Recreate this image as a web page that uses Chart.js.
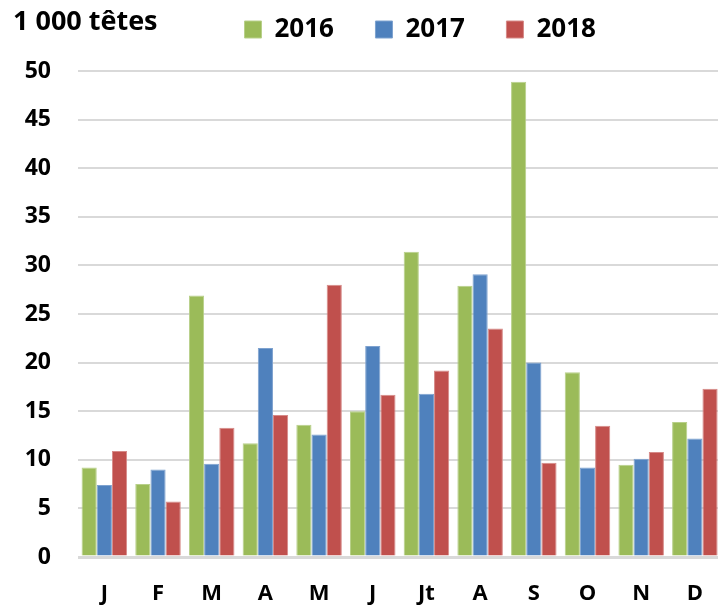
<!DOCTYPE html>
<html>
<head>
<meta charset="utf-8">
<script src="https://cdn.jsdelivr.net/npm/chart.js@4"></script>
<style>
  html, body { margin: 0; padding: 0; overflow: hidden; background: #fff; }
  #wrap { position: relative; width: 729px; height: 605px; }
  #chart { position: absolute; left: 0; top: 0; }
  #unit { position: absolute; left: 13px; top: 6px; font: bold 27px "Open Sans", sans-serif; line-height: 27px; color: #000; white-space: nowrap; }
</style>
</head>
<body>
<div id="wrap">
  <canvas id="chart" width="729" height="605"></canvas>
  <div id="unit">1 000 têtes</div>
</div>
<script>
const months = ['J', 'F', 'M', 'A', 'M', 'J', 'Jt', 'A', 'S', 'O', 'N', 'D'];
const years = ['2016', '2017', '2018'];
const v2016 = [9.2, 7.5, 26.9, 11.7, 13.6, 15.0, 31.4, 27.9, 48.9, 19.0, 9.5, 13.9];
const v2017 = [7.4, 9.0, 9.6, 21.5, 12.6, 21.7, 16.8, 29.1, 20.0, 9.2, 10.1, 12.2];
const v2018 = [10.9, 5.7, 13.3, 14.6, 28.0, 16.7, 19.2, 23.5, 9.7, 13.5, 10.8, 17.3];

const font = '"Open Sans", sans-serif';

// move the legend to where it sits in the picture
const legendShift = {
  id: 'legendShift',
  afterLayout(chart) {
    const lg = chart.legend;
    lg.left += 203;
    lg.right += 203;
    lg.top = -25;
  }
};

function bar(label, data, color, edge) {
  return {
    label: label,
    data: data,
    backgroundColor: color,
    borderColor: edge,
    borderWidth: 1,
    borderSkipped: 'bottom',
    categoryPercentage: 0.848,
    barPercentage: 1.0
  };
}

new Chart(document.getElementById('chart'), {
  type: 'bar',
  data: {
    labels: months,
    datasets: [
      bar(years[0], v2016, '#9bbb59', '#b8d08a'),
      bar(years[1], v2017, '#4f81bd', '#7ea2cf'),
      bar(years[2], v2018, '#c0504d', '#d68a88')
    ]
  },
  plugins: [legendShift],
  options: {
    responsive: false,
    animation: false,
    layout: { padding: 0 },
    scales: {
      x: {
        afterFit: function(s) { s.height = 48; },
        grid: { display: false, drawTicks: false },
        border: { display: false },
        ticks: {
          color: '#000',
          font: { family: font, size: 22, weight: 'bold', lineHeight: 1 },
          padding: 26,
          autoSkip: false,
          maxRotation: 0
        }
      },
      y: {
        min: 0,
        max: 50,
        afterFit: function(s) { s.width = 77.5; },
        grid: {
          drawTicks: false,
          color: '#d9d9d9',
          lineWidth: ctx => ctx.tick && ctx.tick.value === 0 ? 3 : 2
        },
        border: { display: false },
        ticks: {
          stepSize: 5,
          color: '#000',
          padding: 26.5,
          font: { family: font, size: 23, weight: 'bold' }
        }
      }
    },
    plugins: {
      legend: {
        position: 'top',
        align: 'start',
        maxHeight: 71,
        labels: {
          color: '#000',
          boxWidth: 17,
          boxHeight: 17,
          padding: 41.5,
          font: { family: font, size: 26, weight: 'bold' }
        }
      },
      tooltip: { enabled: false }
    }
  }
});
</script>
</body>
</html>
